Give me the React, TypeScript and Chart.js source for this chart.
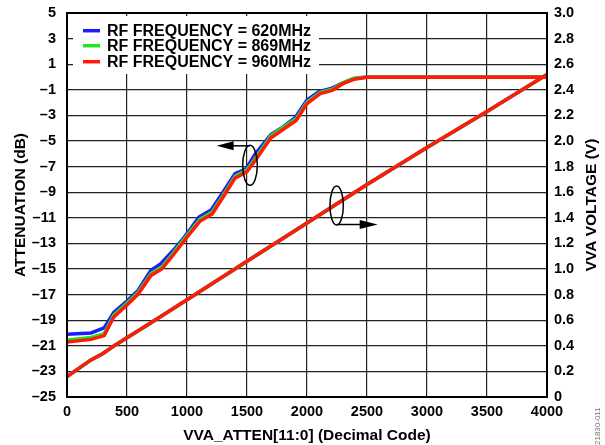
import React, { useEffect, useRef } from "react";
import { Chart, registerables } from "chart.js";

Chart.register(...registerables);

// ---- data ----
const CODE_620 = [0, 200, 310, 390, 500, 590, 700, 780, 890, 970, 1030, 1100, 1200, 1300, 1400, 1490, 1570, 1700, 1800, 1900, 2000, 2100, 2200, 2290, 2390, 2500, 4000];
const ATT_620 = [-20.1, -20.0, -19.6, -18.4, -17.5, -16.7, -15.1, -14.6, -13.5, -12.6, -11.85, -10.95, -10.4, -9.0, -7.55, -7.2, -6.0, -4.5, -3.9, -3.2, -1.8, -1.15, -0.9, -0.5, -0.13, 0.0, 0.0];

const CODE_869 = [0, 200, 310, 390, 500, 590, 700, 790, 890, 1010, 1110, 1210, 1300, 1400, 1500, 1570, 1700, 1800, 1910, 2000, 2110, 2210, 2300, 2390, 2500, 4000];
const ATT_869 = [-20.55, -20.35, -20.05, -18.6, -17.65, -16.85, -15.35, -14.85, -13.7, -12.25, -11.1, -10.55, -9.25, -7.75, -7.25, -6.35, -4.6, -3.95, -3.25, -1.95, -1.2, -0.95, -0.45, -0.1, 0.0, 0.0];

const CODE_960 = [0, 200, 310, 390, 500, 590, 700, 790, 890, 1010, 1110, 1210, 1300, 1400, 1500, 1570, 1700, 1800, 1910, 2000, 2110, 2210, 2300, 2390, 2500, 4000];
const ATT_960 = [-20.7, -20.5, -20.2, -18.75, -17.8, -17.0, -15.5, -15.0, -13.85, -12.4, -11.25, -10.7, -9.4, -7.9, -7.4, -6.5, -4.75, -4.1, -3.4, -2.08, -1.3, -1.04, -0.52, -0.18, -0.02, -0.02];

const CODE_VOLT = [0, 200, 300, 400, 700, 1000, 1500, 2000, 2500, 3000, 3500, 4000];
const VOLT_620 = [0.16, 0.29, 0.34, 0.405, 0.58, 0.76, 1.06, 1.36, 1.66, 1.95, 2.23, 2.52];
const VOLT_869 = [0.16, 0.29, 0.34, 0.405, 0.58, 0.76, 1.06, 1.36, 1.66, 1.95, 2.23, 2.52];
const VOLT_960 = [0.16, 0.29, 0.34, 0.405, 0.58, 0.76, 1.06, 1.36, 1.66, 1.95, 2.23, 2.52];

const SERIES_LABELS = ["RF FREQUENCY = 620MHz", "RF FREQUENCY = 869MHz", "RF FREQUENCY = 960MHz"];
const SERIES_COLORS = ["#1c1cff", "#1de81d", "#ff1a0a"];

const X_TITLE = "VVA_ATTEN[11:0] (Decimal Code)";
const Y_TITLE = "ATTENUATION (dB)";
const Y1_TITLE = "VVA VOLTAGE (V)";
const FIG_CODE = "21830-011";

// annotation anchors (data coordinates)
const LEFT_MARK = { code: 1525, db: -6.9, tipCode: 1247 };
const RIGHT_MARK = { code: 2247, volt: 1.496, tipCode: 2589 };

const FONT = "'Liberation Sans', Arial, Helvetica, sans-serif";

function pts(xs: number[], ys: number[]) {
  return xs.map((x, i) => ({ x, y: ys[i] }));
}

const overlay = {
  id: "overlay",
  afterDraw(chart: any) {
    const { ctx, chartArea, scales } = chart;
    const xs = scales.x, ys = scales.y, y1 = scales.y1;
    ctx.save();
    // frame
    ctx.strokeStyle = "#000";
    ctx.lineWidth = 2;
    ctx.strokeRect(chartArea.left, chartArea.top, chartArea.right - chartArea.left, chartArea.bottom - chartArea.top);

    // legend box
    ctx.fillStyle = "#fff";
    ctx.fillRect(73, 16, 246, 58);
    ctx.font = `bold 16px ${FONT}`;
    ctx.textBaseline = "middle";
    ctx.textAlign = "left";
    const rows = [30.7, 45.7, 61.7];
    SERIES_LABELS.forEach((lab, i) => {
      ctx.strokeStyle = SERIES_COLORS[i];
      ctx.lineWidth = 3.5;
      ctx.beginPath();
      ctx.moveTo(83, rows[i]);
      ctx.lineTo(100, rows[i]);
      ctx.stroke();
      ctx.fillStyle = "#000";
      ctx.fillText(lab, 107, rows[i] + 0.5);
    });

    // left marker ellipse + arrow
    ctx.strokeStyle = "#000";
    ctx.fillStyle = "#000";
    ctx.lineWidth = 1.5;
    const cx1 = xs.getPixelForValue(LEFT_MARK.code);
    const cy1 = ys.getPixelForValue(LEFT_MARK.db);
    ctx.beginPath();
    ctx.ellipse(cx1, cy1, 7.3, 20, 0, 0, Math.PI * 2);
    ctx.stroke();
    const ay1 = cy1 - 19.5;
    const tip1 = xs.getPixelForValue(LEFT_MARK.tipCode);
    ctx.beginPath();
    ctx.moveTo(cx1, ay1);
    ctx.lineTo(tip1 + 14, ay1);
    ctx.stroke();
    ctx.beginPath();
    ctx.moveTo(tip1, ay1);
    ctx.lineTo(tip1 + 17, ay1 - 4.5);
    ctx.lineTo(tip1 + 17, ay1 + 4.5);
    ctx.closePath();
    ctx.fill();

    // right marker ellipse + arrow
    const cx2 = xs.getPixelForValue(RIGHT_MARK.code);
    const cy2 = y1.getPixelForValue(RIGHT_MARK.volt);
    ctx.beginPath();
    ctx.ellipse(cx2, cy2, 6.7, 19.5, 0, 0, Math.PI * 2);
    ctx.stroke();
    const ay2 = cy2 + 19;
    const tip2 = xs.getPixelForValue(RIGHT_MARK.tipCode);
    ctx.beginPath();
    ctx.moveTo(cx2, ay2);
    ctx.lineTo(tip2 - 14, ay2);
    ctx.stroke();
    ctx.beginPath();
    ctx.moveTo(tip2, ay2);
    ctx.lineTo(tip2 - 18, ay2 - 4.5);
    ctx.lineTo(tip2 - 18, ay2 + 4.5);
    ctx.closePath();
    ctx.fill();

    // right axis title (reads bottom-to-top)
    ctx.save();
    ctx.translate(592, (chartArea.top + chartArea.bottom) / 2);
    ctx.rotate(-Math.PI / 2);
    ctx.font = `bold 15.5px ${FONT}`;
    ctx.textAlign = "center";
    ctx.textBaseline = "middle";
    ctx.fillStyle = "#000";
    ctx.fillText(Y1_TITLE, 0, 0);
    ctx.restore();

    // figure code
    ctx.save();
    ctx.translate(598, 445);
    ctx.rotate(-Math.PI / 2);
    ctx.font = `8px ${FONT}`;
    ctx.textAlign = "left";
    ctx.textBaseline = "middle";
    ctx.fillStyle = "#777";
    ctx.fillText(FIG_CODE, 0, 0);
    ctx.restore();

    ctx.restore();
  },
};

export default function App() {
  const ref = useRef<HTMLCanvasElement | null>(null);
  useEffect(() => {
    if (!ref.current) return;
    const lw = 3.5;
    const mk = (label: string, data: any, color: string, axis: string) => ({
      label,
      data,
      borderColor: color,
      backgroundColor: color,
      borderWidth: lw,
      pointRadius: 0,
      tension: 0,
      fill: false,
      yAxisID: axis,
    });
    const tickFont = { family: FONT, size: 14.5, weight: "bold" as const };
    const titleFont = { family: FONT, size: 15.5, weight: "bold" as const };
    const chart = new Chart(ref.current, {
      type: "line",
      data: {
        datasets: [
          mk(SERIES_LABELS[2], pts(CODE_960, ATT_960), SERIES_COLORS[2], "y"),
          mk(SERIES_LABELS[2] + " V", pts(CODE_VOLT, VOLT_960), SERIES_COLORS[2], "y1"),
          mk(SERIES_LABELS[1], pts(CODE_869, ATT_869), SERIES_COLORS[1], "y"),
          mk(SERIES_LABELS[1] + " V", pts(CODE_VOLT, VOLT_869), SERIES_COLORS[1], "y1"),
          mk(SERIES_LABELS[0], pts(CODE_620, ATT_620), SERIES_COLORS[0], "y"),
          mk(SERIES_LABELS[0] + " V", pts(CODE_VOLT, VOLT_620), SERIES_COLORS[0], "y1"),
        ],
      },
      options: {
        responsive: false,
        animation: false,
        layout: { padding: { top: 13, left: 0, right: 0, bottom: 0 } },
        plugins: { legend: { display: false }, tooltip: { enabled: false } },
        scales: {
          x: {
            type: "linear",
            min: 0,
            max: 4000,
            afterFit: (s: any) => { s.height = 48; s.paddingLeft = 0; s.paddingRight = 0; },
            ticks: { stepSize: 500, color: "#000", font: tickFont, padding: 6, maxRotation: 0, callback: (v: any) => String(v) },
            grid: { color: "#222", lineWidth: 1.2, drawTicks: false },
            border: { color: "#000", width: 2 },
            title: { display: true, text: X_TITLE, color: "#000", font: titleFont, padding: { top: 0, bottom: 0 } },
          },
          y: {
            type: "linear",
            position: "left",
            min: -25,
            max: 5,
            afterFit: (s: any) => { s.width = 67; s.paddingTop = 0; s.paddingBottom = 0; },
            ticks: {
              stepSize: 2,
              color: "#000",
              font: tickFont,
              padding: 11,
              callback: (v: any) => (v < 0 ? "\u2013" + Math.abs(v) : String(v)),
            },
            grid: { color: "#222", lineWidth: 1.2, drawTicks: false },
            border: { color: "#000", width: 2 },
            title: { display: true, text: Y_TITLE, color: "#000", font: titleFont, padding: { top: 11, bottom: 0 } },
          },
          y1: {
            type: "linear",
            position: "right",
            min: 0,
            max: 3,
            afterFit: (s: any) => { s.width = 58; s.paddingTop = 0; s.paddingBottom = 0; },
            ticks: {
              stepSize: 0.2,
              color: "#000",
              font: tickFont,
              padding: 7,
              callback: (v: any) => (Math.abs(v) < 1e-9 ? "0" : Number(v).toFixed(1)),
            },
            grid: { display: false, drawTicks: false },
            border: { color: "#000", width: 2 },
          },
        },
      },
      plugins: [overlay],
    } as any);
    return () => chart.destroy();
  }, []);
  return (
    <div style={{ position: "absolute", left: 0, top: 0, width: 605, height: 445, background: "#fff" }}>
      <canvas ref={ref} width={605} height={445} />
    </div>
  );
}
